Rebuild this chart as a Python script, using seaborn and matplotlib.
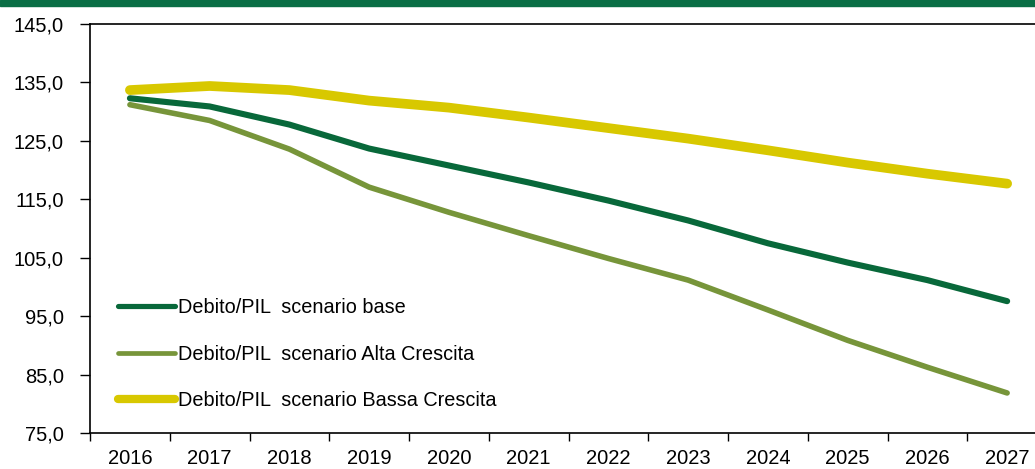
import pandas as pd
import matplotlib.pyplot as plt
import matplotlib.ticker as mticker
from matplotlib.patches import Rectangle
from matplotlib.lines import Line2D
import seaborn as sns

sns.set_theme(style="white")
plt.rcParams['font.family'] = ['Liberation Sans', 'DejaVu Sans']

# Data
years = [2016, 2017, 2018, 2019, 2020, 2021, 2022, 2023, 2024, 2025, 2026, 2027]
base = [132.3, 130.9, 127.8, 123.7, 120.8, 117.9, 114.8, 111.4, 107.5, 104.2, 101.2, 97.6]
alta = [131.2, 128.5, 123.6, 117.1, 112.8, 108.8, 104.9, 101.2, 96.1, 90.9, 86.3, 81.9]
bassa = [133.7, 134.4, 133.7, 131.9, 130.7, 129.0, 127.2, 125.4, 123.4, 121.3, 119.4, 117.7]
y_ticks = [75, 85, 95, 105, 115, 125, 135, 145]

labels = ["Debito/PIL  scenario base",
          "Debito/PIL  scenario Alta Crescita",
          "Debito/PIL  scenario Bassa Crescita"]
colors = ["#08683a", "#77953a", "#d8c800"]
widths = [4.4, 4.0, 7.0]

df = pd.DataFrame({"anno": years * 3,
                   "valore": base + alta + bassa,
                   "serie": [labels[0]] * 12 + [labels[1]] * 12 + [labels[2]] * 12})

fig = plt.figure(figsize=(10.35, 4.69), dpi=100)
ax = fig.add_axes([0.087, 0.0761, 0.9246, 0.8727])

# yellow drawn first so the other lines sit on top
for lab, col, lw in reversed(list(zip(labels, colors, widths))):
    sns.lineplot(data=df[df["serie"] == lab], x="anno", y="valore", color=col,
                 linewidth=lw, solid_capstyle="round", ax=ax, legend=False)

ax.set_xlim(2015.5, 2027.5)
ax.set_ylim(75, 145)
ax.set_xlabel("")
ax.set_ylabel("")

# x: tick marks at the boundaries, labels in the middle
ax.xaxis.set_major_locator(mticker.FixedLocator([y - 0.5 for y in years] + [2027.5]))
ax.xaxis.set_major_formatter(mticker.NullFormatter())
ax.xaxis.set_minor_locator(mticker.FixedLocator(years))
ax.xaxis.set_minor_formatter(mticker.FixedFormatter([str(y) for y in years]))
ax.tick_params(axis="x", which="major", direction="out", length=6, width=1, color="black", bottom=True)
ax.tick_params(axis="x", which="minor", length=0, pad=11, labelsize=14.5, labelcolor="black")

ax.yaxis.set_major_locator(mticker.FixedLocator(y_ticks))
ax.yaxis.set_major_formatter(mticker.FuncFormatter(lambda v, p: f"{v:.1f}".replace(".", ",")))
ax.tick_params(axis="y", direction="out", length=7, width=1, color="black", left=True,
               pad=12, labelsize=14.5, labelcolor="black")

for side in ["left", "bottom", "top"]:
    ax.spines[side].set_visible(True)
    ax.spines[side].set_color("black")
    ax.spines[side].set_linewidth(1.2)
ax.spines["right"].set_visible(False)
ax.grid(False)

handles = [Line2D([], [], color=c, lw=w * 0.85, solid_capstyle="round") for c, w in zip(colors, widths)]
ax.legend(handles, labels, loc="center left", bbox_to_anchor=(0.114, 0.245),
          bbox_transform=fig.transFigure, frameon=False, fontsize=14.3,
          handlelength=2.85, handletextpad=0.18, labelspacing=1.4,
          borderpad=0, borderaxespad=0, labelcolor="black")

# green band across the top
fig.patches.append(Rectangle((0, 1 - 6 / 469), 1, 6 / 469, transform=fig.transFigure,
                             color="#0a6e45", zorder=10))

plt.savefig("out.png", dpi=100)
